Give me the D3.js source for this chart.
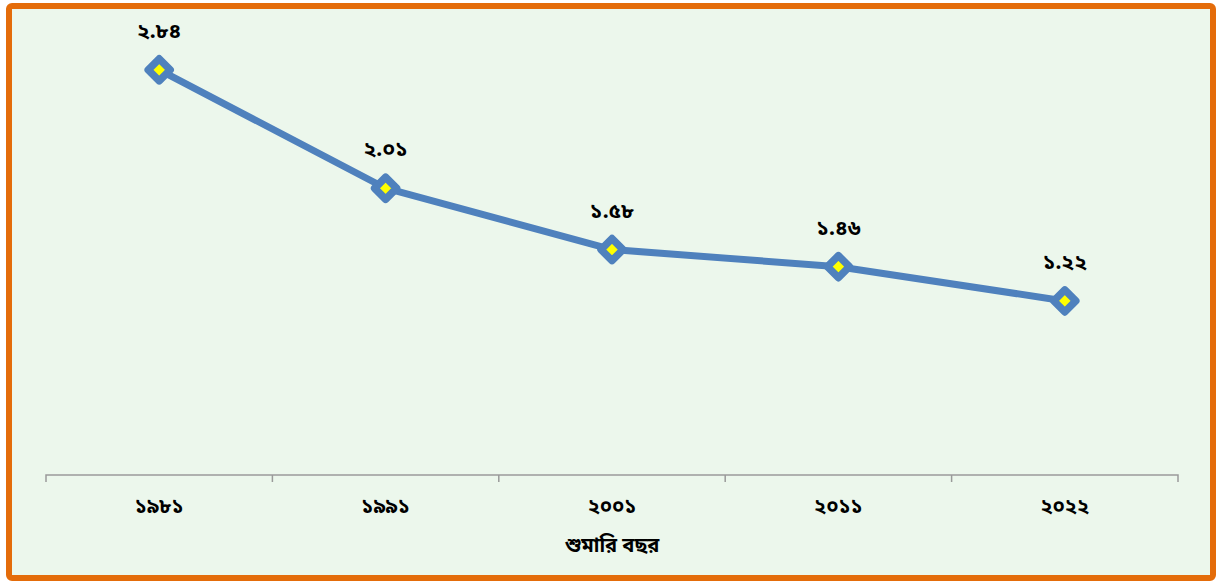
<!DOCTYPE html>
<html>
<head>
<meta charset="utf-8">
<script src="https://cdn.jsdelivr.net/npm/d3@7"></script>
<style>
  html, body { margin: 0; padding: 0; background: #fff; }
  svg { display: block; }
  text { font-family: "Noto Sans Bengali", "Noto Serif Bengali", "Lohit Bengali", "Vrinda", "Noto Sans", sans-serif; }
</style>
</head>
<body>
<div id="chart"></div>
<script>
// census years and values
const years = ["1981", "1991", "2001", "2011", "2022"];
const values = [2.84, 2.01, 1.58, 1.46, 1.22];
const xTitle = "শুমারি বছর";

const bnDigits = "০১২৩৪৫৬৭৮৯";
const toBn = (s) => String(s).replace(/[0-9]/g, (c) => bnDigits[+c]);

const W = 1216, H = 581;
const svg = d3.select("#chart").append("svg").attr("width", W).attr("height", H);

// frame
svg.append("rect")
  .attr("x", 9).attr("y", 6)
  .attr("width", 1204).attr("height", 572)
  .attr("rx", 3)
  .attr("fill", "#ECF7EC")
  .attr("stroke", "#E46C0A")
  .attr("stroke-width", 6);

const x = d3.scaleBand().domain(years).range([46, 1178]);
const y = d3.scaleLinear().domain([0, 3]).range([475, 47]);

// x axis
const axis = svg.append("g")
  .attr("transform", `translate(0,${y(0)})`)
  .call(d3.axisBottom(x).tickSize(0).tickFormat(toBn));
axis.select(".domain").attr("stroke", "#9a9a9a").attr("stroke-width", 1.5)
  .attr("d", `M${x.range()[0]},7V0H${x.range()[1]}V7`);
axis.selectAll(".tick text")
  .attr("dy", 0).attr("y", 38)
  .attr("font-size", 20).attr("font-weight", "bold").attr("fill", "#000")
  .style("font-family", null);

// category boundary ticks
svg.append("g")
  .selectAll("line")
  .data(years.slice(1))
  .enter()
  .append("line")
  .attr("x1", (d) => x(d)).attr("x2", (d) => x(d))
  .attr("y1", y(0)).attr("y2", y(0) + 7)
  .attr("stroke", "#9a9a9a").attr("stroke-width", 1.5);

// axis title
svg.append("text")
  .attr("x", (x.range()[0] + x.range()[1]) / 2)
  .attr("y", 552)
  .attr("text-anchor", "middle")
  .attr("font-size", 20).attr("font-weight", "bold")
  .text(xTitle);

const cx = (i) => x(years[i]) + x.bandwidth() / 2;

// line
svg.append("path")
  .datum(values)
  .attr("fill", "none")
  .attr("stroke", "#4F81BD")
  .attr("stroke-width", 7)
  .attr("stroke-linejoin", "round")
  .attr("d", d3.line().x((d, i) => cx(i)).y((d) => y(d)));

// markers
const diamond = (r) => `M0,${-r}L${r},0L0,${r}L${-r},0Z`;
const pts = svg.append("g").selectAll("g")
  .data(values)
  .enter()
  .append("g")
  .attr("transform", (d, i) => `translate(${cx(i)},${y(d)})`);
pts.append("path")
  .attr("d", diamond(11))
  .attr("fill", "#FFFF00")
  .attr("stroke", "#4F81BD")
  .attr("stroke-width", 7.5)
  .attr("stroke-linejoin", "round");

// data labels
svg.append("g").selectAll("text")
  .data(values)
  .enter()
  .append("text")
  .attr("x", (d, i) => cx(i))
  .attr("y", (d) => y(d) - 32)
  .attr("text-anchor", "middle")
  .attr("font-size", 21).attr("font-weight", "bold")
  .text((d) => toBn(d.toFixed(2)));
</script>
</body>
</html>
